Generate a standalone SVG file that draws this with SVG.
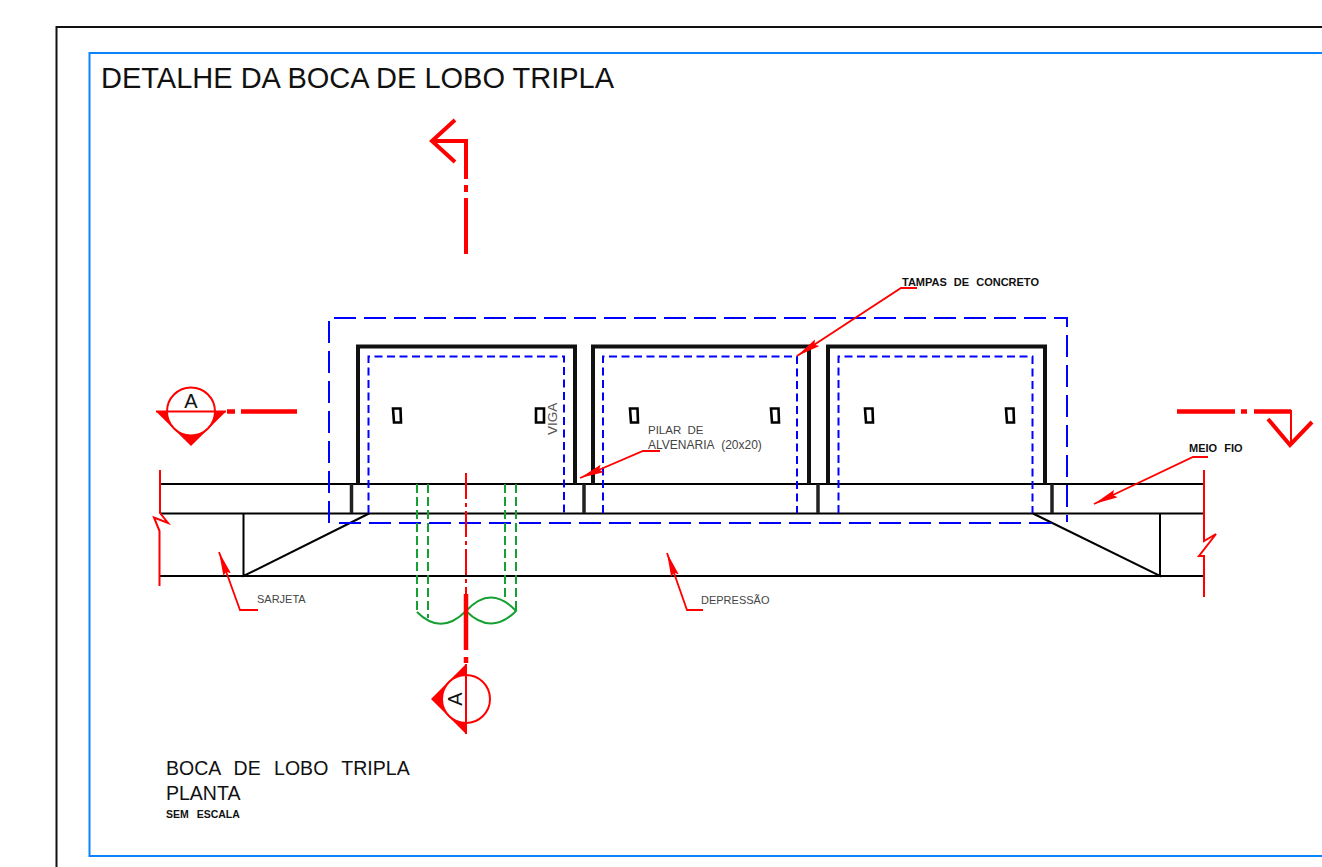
<svg xmlns="http://www.w3.org/2000/svg" width="1322" height="867" viewBox="0 0 1322 867">
<style>
text{font-family:"Liberation Sans",Arial,sans-serif}
.k{fill:none;stroke:#000;stroke-width:2}
.wall{fill:none;stroke:#111;stroke-width:4}
.pil{stroke:#222;stroke-width:3.5}
.bo{fill:none;stroke:#0000ff;stroke-width:2;stroke-dasharray:22 8}
.bi{fill:none;stroke:#0000ff;stroke-width:2;stroke-dasharray:8 4.5}
.g{fill:none;stroke:#16a034;stroke-width:2}
.gd{stroke-dasharray:9 4}
.r{fill:none;stroke:#f00;stroke-width:2}
.r4{fill:none;stroke:#f00;stroke-width:4}
.rt{fill:none;stroke:#f00;stroke-width:4.5}
.hole{fill:#fff;stroke:#000;stroke-width:2.6}
.ld{fill:none;stroke:#f00;stroke-width:1.8;marker-end:url(#ah)}
.lab{font-size:11px;word-spacing:3px;fill:#444}
.labb{font-size:11px;font-weight:bold;word-spacing:4px;fill:#111}
.big{font-size:19.500px;word-spacing:8px;fill:#111}
</style>
<defs>
<marker id="ah" markerUnits="userSpaceOnUse" markerWidth="26" markerHeight="12" refX="24" refY="5" orient="auto"><path d="M0 1L24 5L0 9L3 5Z" fill="#f00"/></marker>
</defs>
<rect width="1322" height="867" fill="#fff"/>
<g id="frame">
<path d="M1322 27H56.500V867" fill="none" stroke="#111" stroke-width="2"/>
<path d="M1322 53H89.500V856H1322" fill="none" stroke="#0a84ff" stroke-width="2"/>
</g>
<g id="title"><text x="101" y="88" font-size="29" fill="#111">DETALHE DA BOCA DE LOBO TRIPLA</text></g>
<g id="street">
<path class="k" d="M160 484H1204M160 513.500H1204M160 576H1204"/>
<path class="k" d="M243.500 513.500V576L369 513.500M1033 513.500L1160 576V513.500"/>
<path class="pil" d="M351.500 484V513M584 484V513M818 484V513M1052 484V513"/>
</g>
<g id="cover-outer"><path class="bo" d="M329 523V318H1067V522"/><path class="bo" d="M339 523H1058"/></g>
<g id="box-1">
<path class="wall" d="M358 484V346.500H575V484"/>
<path class="bi" d="M368.500 513V356.500H564V513"/>
<path class="hole" d="M393 408.500H400.500L401 422.500H394Z"/>
<path class="hole" d="M536 408.500H544V422.500H536Z"/>
<text x="0" y="0" font-size="13.500" fill="#555" transform="translate(557 435) rotate(-90)">VIGA</text>
</g>
<g id="box-2">
<path class="wall" d="M593 484V346.500H809V484"/>
<path class="bi" d="M603 513V356.500H797V513"/>
<path class="hole" d="M630 408.500H637.500L638 422.500H631Z"/>
<path class="hole" d="M771 408.500H778.500L779 422.500H772Z"/>
</g>
<g id="box-3">
<path class="wall" d="M828 484V346.500H1045V484"/>
<path class="bi" d="M838.500 513V356.500H1032.500V513"/>
<path class="hole" d="M865 408.500H872.500L873 422.500H866Z"/>
<path class="hole" d="M1006 408.500H1013.500L1014 422.500H1007Z"/>
</g>
<g id="pipes">
<path class="g gd" d="M417 484V612M428 484V618M505 484V602M516 484V612"/>
<path class="g" d="M417 612Q441 636 466 611M466 611Q491 584 516 611Q491 636 466 611"/>
</g>
<g id="breaks">
<path class="r" d="M160 470V513L168 523L154 517.500L159.500 531V586"/>
<path class="r" d="M1204 470V541L1216 534L1199 556H1204V597"/>
</g>
<g id="section-vertical">
<path class="r" d="M466 473V595" stroke-dasharray="26 4 4 4"/>
<path class="r4" d="M466 254V198M466 192V185M466 179V141H433"/>
<path class="r4" d="M455 120L432 141L455 162"/>
<path class="rt" d="M466 594V650M466 657V663"/>
<path d="M466 664V734L431 699Z" fill="#f00"/>
<circle cx="466" cy="699" r="24" fill="#fff" stroke="#f00" stroke-width="2"/>
<path class="r" d="M466 664V734"/>
<text font-size="20" fill="#111" text-anchor="middle" transform="translate(462 699) rotate(-90)">A</text>
</g>
<g id="section-horizontal">
<path class="rt" d="M227 411.500H235M241 411.500H297"/>
<path d="M156 411.500H226L191 446Z" fill="#f00"/>
<circle cx="191" cy="411.500" r="24" fill="#fff" stroke="#f00" stroke-width="2"/>
<path class="r" d="M156 411.500H226"/>
<text x="191" y="408" font-size="20" fill="#111" text-anchor="middle">A</text>
<path class="rt" d="M1177 411.500H1235M1241 411.500H1247M1254 411.500H1291"/>
<path class="r" d="M1291 410V444"/>
<path class="r4" d="M1268 419L1290 445L1312 422"/>
</g>
<g id="connectors">
<path class="ld" d="M917 288H901L797 356"/>
<path class="ld" d="M660 451H643L580 478"/>
<path class="ld" d="M1208 457H1193L1094 504"/>
<path class="ld" d="M258 610H240L219 552"/>
<path class="ld" d="M703 610H687L667 553"/>
</g>
<g id="labels">
<text class="labb" x="902" y="286">TAMPAS DE CONCRETO</text>
<text class="lab" x="648" y="434" style="font-size:11.500px">PILAR DE</text>
<text class="lab" x="648" y="449" style="font-size:12px;word-spacing:4px">ALVENARIA (20x20)</text>
<text class="labb" x="1189" y="452">MEIO FIO</text>
<text class="lab" x="257" y="603">SARJETA</text>
<text class="lab" x="701" y="604">DEPRESSÃO</text>
<text class="big" x="166" y="775">BOCA DE LOBO TRIPLA</text>
<text class="big" x="166" y="800">PLANTA</text>
<text class="labb" x="166" y="818" style="font-size:10.500px;word-spacing:5px">SEM ESCALA</text>
</g>
</svg>
